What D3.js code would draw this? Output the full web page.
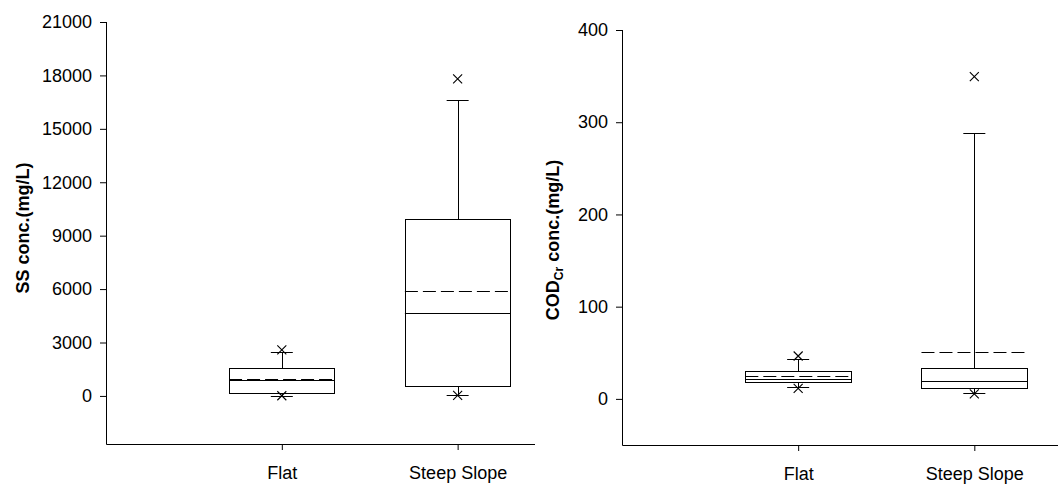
<!DOCTYPE html>
<html>
<head>
<meta charset="utf-8">
<script src="https://cdn.jsdelivr.net/npm/d3@7"></script>
<style>
  html, body { margin: 0; padding: 0; background: #fff; }
  svg { display: block; }
  text { font-family: "Liberation Sans", Arial, sans-serif; }
</style>
</head>
<body>
<svg id="chart" width="1058" height="484"></svg>
<script>
// ---- Data ----
const categories = ["Flat", "Steep Slope"];

// SS concentration (mg/L)
const ssLowerWhisker = [20, 50];
const ssQ1 = [150, 560];
const ssMedian = [900, 4650];
const ssMean = [950, 5900];
const ssQ3 = [1570, 9930];
const ssUpperWhisker = [2450, 16600];
const ssOutliers = [[10, 2580], [30, 17800]];
const ssTicks = [0, 3000, 6000, 9000, 12000, 15000, 18000, 21000];

// COD_Cr concentration (mg/L)
const codLowerWhisker = [12.6, 6.9];
const codQ1 = [18.8, 12.6];
const codMedian = [21.6, 19.5];
const codMean = [24.5, 51.2];
const codQ3 = [30.3, 33.9];
const codUpperWhisker = [43.3, 288];
const codOutliers = [[11.5, 46.5], [5.4, 349.5]];
const codTicks = [0, 100, 200, 300, 400];

// ---- Drawing ----
const svg = d3.select("#chart");
const FONT = 18;

function panel(opts) {
  const g = svg.append("g");
  const x = d3.scaleLinear().domain([0, opts.xMax]).range([opts.x0, opts.x1]);
  const y = d3.scaleLinear().domain(opts.yDomain).range([opts.yBottom, opts.yTop]);

  // y axis
  const yAxis = d3.axisLeft(y).tickValues(opts.ticks).tickSize(6).tickPadding(8)
    .tickFormat(d3.format("d"));
  const ya = g.append("g").attr("transform", `translate(${opts.x0},0)`).call(yAxis);
  ya.select(".domain").attr("d", `M0.5,${y(opts.yDomain[1])}V${opts.yBottom + 0.5}`);
  ya.selectAll("text").attr("font-size", FONT).attr("fill", "#000")
    .style("font-family", '"Liberation Sans", Arial, sans-serif');
  ya.selectAll("line, path").attr("stroke", "#000");

  // x axis
  const xAxis = d3.axisBottom(x).tickValues([1, 2]).tickSize(6).tickPadding(16)
    .tickFormat((d) => categories[d - 1]);
  const xa = g.append("g").attr("transform", `translate(0,${opts.yBottom})`).call(xAxis);
  xa.select(".domain").attr("d", `M${opts.x0 + 0.5},0.5H${opts.x1}`);
  xa.selectAll("text").attr("font-size", FONT).attr("fill", "#000")
    .style("font-family", '"Liberation Sans", Arial, sans-serif');
  xa.selectAll("line, path").attr("stroke", "#000");

  const px = (v) => Math.round(v) + 0.5;
  const boxW = 0.6, capW = 0.125, mk = 4.5;

  categories.forEach((c, i) => {
    const cx = x(i + 1);
    const bl = x(i + 1 - boxW / 2), br = x(i + 1 + boxW / 2);
    const cl = x(i + 1 - capW / 2), cr = x(i + 1 + capW / 2);

    // whiskers
    [[opts.q3[i], opts.hi[i]], [opts.q1[i], opts.lo[i]]].forEach(([a, b]) => {
      g.append("line").attr("x1", px(cx)).attr("x2", px(cx))
        .attr("y1", px(y(a))).attr("y2", px(y(b))).attr("stroke", "#000");
      g.append("line").attr("x1", cl).attr("x2", cr)
        .attr("y1", px(y(b))).attr("y2", px(y(b))).attr("stroke", "#000");
    });

    // box
    g.append("rect").attr("x", px(bl)).attr("y", px(y(opts.q3[i])))
      .attr("width", Math.round(br - bl)).attr("height", Math.round(y(opts.q1[i]) - y(opts.q3[i])))
      .attr("fill", "#fff").attr("stroke", "#000").attr("stroke-width", 1);
    // median
    g.append("line").attr("x1", bl).attr("x2", br)
      .attr("y1", px(y(opts.med[i]))).attr("y2", px(y(opts.med[i]))).attr("stroke", "#000");
    // mean (dashed)
    g.append("line").attr("x1", bl).attr("x2", br)
      .attr("y1", px(y(opts.mean[i]))).attr("y2", px(y(opts.mean[i])))
      .attr("stroke", "#000").attr("stroke-dasharray", "13,5");

    // outliers (x markers)
    opts.out[i].forEach((v) => {
      const oy = y(v);
      g.append("path")
        .attr("d", `M${cx - mk},${oy - mk}L${cx + mk},${oy + mk}M${cx - mk},${oy + mk}L${cx + mk},${oy - mk}`)
        .attr("stroke", "#000").attr("stroke-width", 1.1).attr("fill", "none");
    });
  });

  return { g, x, y };
}

panel({
  x0: 106, x1: 535, xMax: 2.44, yTop: 22, yBottom: 444, yDomain: [-2700, 21000],
  ticks: ssTicks, lo: ssLowerWhisker, q1: ssQ1, med: ssMedian, mean: ssMean,
  q3: ssQ3, hi: ssUpperWhisker, out: ssOutliers
});

panel({
  x0: 622, x1: 1058, xMax: 2.475, yTop: 30, yBottom: 445, yDomain: [-50, 400],
  ticks: codTicks, lo: codLowerWhisker, q1: codQ1, med: codMedian, mean: codMean,
  q3: codQ3, hi: codUpperWhisker, out: codOutliers
});

// y-axis titles
svg.append("text")
  .attr("transform", "translate(29,228) rotate(-90)")
  .attr("text-anchor", "middle").attr("font-size", FONT).attr("font-weight", "bold")
  .text("SS conc.(mg/L)");

const t2 = svg.append("text")
  .attr("transform", "translate(559,240) rotate(-90)")
  .attr("text-anchor", "middle").attr("font-size", FONT).attr("font-weight", "bold");
t2.append("tspan").text("COD");
t2.append("tspan").attr("font-size", 12).attr("dy", 4).text("Cr");
t2.append("tspan").attr("dy", -4).text(" conc.(mg/L)");
</script>
</body>
</html>
